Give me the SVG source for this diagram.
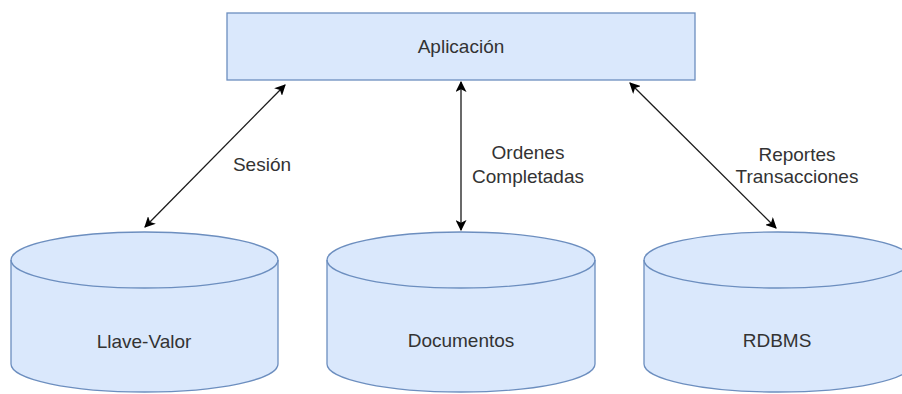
<svg xmlns="http://www.w3.org/2000/svg" width="902" height="394" viewBox="0 0 902 394">
<defs>
<style>
.shape{fill:#dae8fc;stroke:#6c8ebf;stroke-width:1.3}
.lbl{font-family:"Liberation Sans",Arial,sans-serif;font-size:19px;fill:#333;text-anchor:middle}
.edge{stroke:#1a1a1a;stroke-width:1.3;fill:none;marker-start:url(#ah);marker-end:url(#ah)}
</style>
<marker id="ah" viewBox="0 0 10 10" refX="9" refY="5" markerWidth="11" markerHeight="11" markerUnits="userSpaceOnUse" orient="auto-start-reverse">
<path d="M0,0 L10,5 L0,10 L2.5,5 Z" fill="#000"/>
</marker>
</defs>
<rect width="902" height="394" fill="#fff"/>
<g id="aplicacion">
<rect class="shape" x="227" y="13" width="468" height="67"/>
<text class="lbl" x="461" y="53">Aplicación</text>
</g>
<g id="llave-valor">
<path class="shape" d="M11,260 A133.5,28 0 0 1 278,260 L278,364 A133.5,28 0 0 1 11,364 Z"/>
<path class="shape" fill="none" style="fill:none" d="M11,260 A133.5,28 0 0 0 278,260"/>
<text class="lbl" x="144" y="348">Llave-Valor</text>
</g>
<g id="documentos">
<path class="shape" d="M327,260 A134,28 0 0 1 595,260 L595,364 A134,28 0 0 1 327,364 Z"/>
<path class="shape" style="fill:none" d="M327,260 A134,28 0 0 0 595,260"/>
<text class="lbl" x="461" y="347">Documentos</text>
</g>
<g id="rdbms">
<path class="shape" d="M644,260 A134,28 0 0 1 912,260 L912,364 A134,28 0 0 1 644,364 Z"/>
<path class="shape" style="fill:none" d="M644,260 A134,28 0 0 0 912,260"/>
<text class="lbl" x="777" y="347">RDBMS</text>
</g>
<g id="connectors">
<line class="edge" x1="285" y1="85" x2="145" y2="227"/>
<line class="edge" x1="461" y1="82" x2="461" y2="230"/>
<line class="edge" x1="630" y1="83" x2="776" y2="228"/>
<text class="lbl" x="262" y="171">Sesión</text>
<text class="lbl" x="528" y="159">Ordenes</text>
<text class="lbl" x="528" y="183">Completadas</text>
<text class="lbl" x="797" y="161">Reportes</text>
<text class="lbl" x="797" y="183">Transacciones</text>
</g>
</svg>
